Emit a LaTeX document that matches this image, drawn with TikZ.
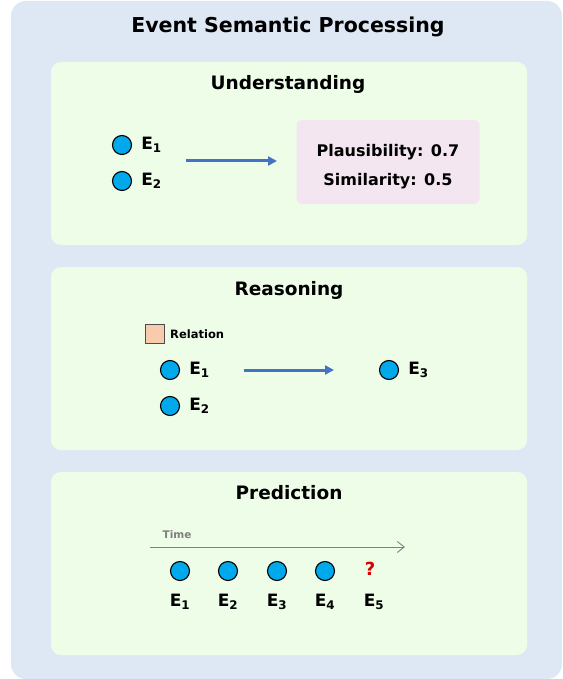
\documentclass[tikz,border=0pt]{standalone}
\usepackage{fontspec}
\setmainfont{DejaVu Sans}
\definecolor{espblue}{HTML}{DEE8F4}
\definecolor{espgreen}{HTML}{EEFDE8}
\definecolor{esppink}{HTML}{F4E6F1}
\definecolor{espevent}{HTML}{00A8EC}
\definecolor{esparrow}{HTML}{4472C4}
\definecolor{esprel}{HTML}{F8CBAD}
\definecolor{esptime}{HTML}{808080}
\usetikzlibrary{arrows.meta,positioning}

\begin{document}
\begin{tikzpicture}[x=1pt,y=-1pt,
  panel/.style={fill=espgreen, rounded corners=10pt},
  ev/.style={circle, draw=black, fill=espevent, line width=1.1pt,
             minimum size=19pt, inner sep=0pt},
  evlabel/.style={font=\fontsize{17}{19}\selectfont\bfseries, inner sep=0pt},
  ptitle/.style={font=\fontsize{18.5}{21}\selectfont\bfseries},
  score/.style={font=\fontsize{16}{18}\selectfont\bfseries},
  flow/.style={draw=esparrow, line width=3pt,
               -{Triangle[length=9pt,width=9pt]}}
]
\useasboundingbox (0,0) rectangle (562,679);
\fill[espblue, rounded corners=15pt] (11,1) rectangle (562,679);
\node[font=\fontsize{20.5}{24}\selectfont\bfseries] (title) at (288,27) {Event Semantic Processing};

%% Understanding
\fill[panel] (51,62) rectangle (527,245);
\node[ptitle] (t1) at (288,84) {Understanding};
\node[ev] (u1) at (122,145) {};
\node[ev] (u2) at (122,181) {};
\node[evlabel, right=9pt of u1] (lu1) {E\textsubscript{1}};
\node[evlabel, right=9pt of u2] (lu2) {E\textsubscript{2}};
\node[fill=esppink, rounded corners=5pt, minimum width=183pt, minimum height=84pt] (box) at (388,162) {};
\node[score] (plaus) at (388,152) {Plausibility: 0.7};
\node[score] (simil) at (388,181) {Similarity: 0.5};
\coordinate (ua) at (186,161);
\coordinate (ub) at (277,161);
\draw[flow] (ua) -- (ub);

%% Reasoning
\fill[panel] (51,267) rectangle (527,450);
\node[ptitle] (t2) at (289,290) {Reasoning};
\node[draw=black!70, fill=esprel, minimum size=19pt, inner sep=0pt] (rel) at (155,334) {};
\node[font=\fontsize{11.5}{13}\selectfont\bfseries, right=2pt of rel] (lrel) {Relation};
\node[ev] (r1) at (170,370) {};
\node[ev] (r2) at (170,406) {};
\node[ev] (r3) at (389,370) {};
\node[evlabel, right=9pt of r1] (lr1) {E\textsubscript{1}};
\node[evlabel, right=9pt of r2] (lr2) {E\textsubscript{2}};
\node[evlabel, right=9pt of r3] (lr3) {E\textsubscript{3}};
\coordinate (ra) at (244,370);
\coordinate (rb) at (334,370);
\draw[flow] (ra) -- (rb);

%% Prediction
\fill[panel] (51,472) rectangle (527,655);
\node[ptitle] (t3) at (289,493) {Prediction};
\coordinate (ta) at (150,547);
\coordinate (tb) at (405,547);
\draw[draw=esptime, line width=0.9pt, -{Straight Barb[length=7pt,width=11pt]}] (ta) -- (tb);
\node[font=\fontsize{10.5}{12}\selectfont\bfseries, text=esptime] (time) at (177,535) {Time};
\foreach \i/\x in {1/180,2/228,3/277,4/325}{
  \node[ev] (p\i) at (\x,571) {};
  \node[evlabel] (lp\i) at (\x,602) {E\textsubscript{\i}};
}
\node[font=\fontsize{18}{20}\selectfont\bfseries, text=red!85!black] (p5) at (370,569) {?};
\node[evlabel] (lp5) at (374,602) {E\textsubscript{5}};

\end{tikzpicture}
\end{document}
